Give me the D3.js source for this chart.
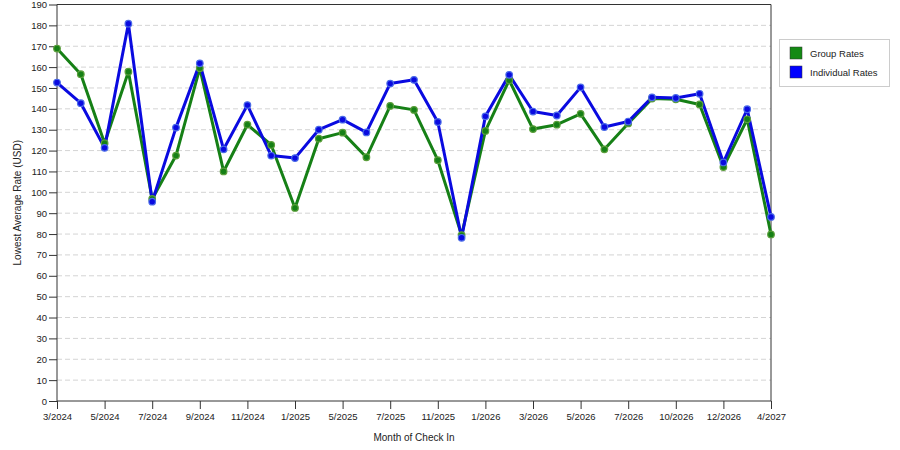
<!DOCTYPE html>
<html><head><meta charset="utf-8">
<script src="https://cdn.jsdelivr.net/npm/d3@7"></script>
<style>
html,body{margin:0;padding:0;background:#fff;}
text{font-family:"Liberation Sans",Arial,sans-serif;fill:#222;}
</style></head>
<body><svg id="c" width="900" height="450"></svg>
<script>
const months = ["3/2024","4/2024","5/2024","6/2024","7/2024","8/2024","9/2024","10/2024","11/2024","12/2024",
  "1/2025","3/2025","5/2025","6/2025","7/2025","9/2025","11/2025","12/2025","1/2026","2/2026",
  "3/2026","4/2026","5/2026","6/2026","7/2026","9/2026","10/2026","11/2026","12/2026","2/2027","4/2027"];
const groupRates = [168.9,156.6,123.5,157.8,96.8,117.6,159.5,110.0,132.4,122.7,
  92.5,125.7,128.6,116.8,141.4,139.5,115.4,79.5,129.4,153.7,
  130.3,132.4,137.6,120.6,133.0,144.9,144.6,142.1,112.1,135.0,79.8];
const individualRates = [152.6,142.7,121.3,180.8,95.5,131.0,161.8,120.6,141.8,117.6,
  116.4,130.0,134.8,128.7,152.1,153.9,133.7,78.2,136.4,156.3,
  138.7,136.8,150.3,131.3,133.9,145.5,145.2,147.2,114.3,139.8,88.2];
const yTicks = d3.range(0, 191, 10);
const seriesNames = ["Group Rates","Individual Rates"];
const seriesColors = ["#168016","#0a0ae0"];
const markerColors = ["#5a9e3a","#4a6ae8"];

const svg = d3.select("#c");
const L = 57, R = 771, T = 4.5, B = 401;
const x = d3.scalePoint().domain(months).range([L, R]).padding(0);
const y = d3.scaleLinear().domain([0, 190]).range([B, T]);

// grid
svg.append("g").selectAll("line").data(yTicks.filter(v => v > 0 && v < 190)).join("line")
  .attr("x1", L).attr("x2", R).attr("y1", d => y(d)).attr("y2", d => y(d))
  .attr("stroke", "#d4d4d4").attr("stroke-dasharray", "5,3").attr("stroke-width", 1);

// frame top/right
svg.append("line").attr("x1", L).attr("x2", R).attr("y1", T).attr("y2", T).attr("stroke", "#333");
svg.append("line").attr("x1", R).attr("x2", R).attr("y1", T).attr("y2", B).attr("stroke", "#333");

// axes
const yAxis = d3.axisLeft(y).tickValues(yTicks).tickSize(8).tickPadding(2).tickFormat(d3.format("d"));
const gy = svg.append("g").attr("transform", `translate(${L},0)`).call(yAxis);
gy.selectAll("text").attr("font-size", "9.5px").style("font-family", "'Liberation Sans',Arial,sans-serif").attr("fill", "#222");
gy.selectAll("line,path").attr("stroke", "#333");
gy.select(".domain").attr("d", `M0,${T}V${B}`);

const xAxis = d3.axisBottom(x).tickValues(months.filter((m, i) => i % 2 === 0)).tickSize(8).tickPadding(4);
const gx = svg.append("g").attr("transform", `translate(0,${B})`).call(xAxis);
gx.selectAll("text").attr("font-size", "9.5px").style("font-family", "'Liberation Sans',Arial,sans-serif").attr("fill", "#222");
gx.selectAll("line,path").attr("stroke", "#333");
gx.select(".domain").attr("d", `M${L},0H${R}`);

// axis titles
svg.append("text").attr("x", (L + R) / 2).attr("y", 441).attr("text-anchor", "middle")
  .attr("font-size", "10px").text("Month of Check In");
svg.append("text").attr("transform", `translate(21,${(T + B) / 2}) rotate(-90)`).attr("text-anchor", "middle")
  .attr("font-size", "10px").text("Lowest Average Rate (USD)");

// series
const data = [groupRates, individualRates];
const line = d3.line().x((d, i) => x(months[i])).y(d => y(d));
data.forEach((s, k) => {
  svg.append("path").datum(s).attr("d", line).attr("fill", "none")
    .attr("stroke", seriesColors[k]).attr("stroke-width", 3).attr("stroke-linejoin", "round");
});
data.forEach((s, k) => {
  svg.append("g").selectAll("circle").data(s).join("circle")
    .attr("cx", (d, i) => x(months[i])).attr("cy", d => y(d)).attr("r", 3.3)
    .attr("fill", seriesColors[k]).attr("stroke", markerColors[k]).attr("stroke-width", 1.2);
});

// legend
const lg = svg.append("g");
lg.append("rect").attr("x", 779.5).attr("y", 39.5).attr("width", 110).attr("height", 47)
  .attr("fill", "#fff").attr("stroke", "#ccc");
seriesNames.forEach((n, k) => {
  lg.append("rect").attr("x", 790).attr("y", 47 + k * 19).attr("width", 12).attr("height", 12)
    .attr("fill", k === 0 ? "#138a13" : "#0000ff").attr("stroke", "#333").attr("stroke-width", 0.5);
  lg.append("text").attr("x", 810).attr("y", 57 + k * 19).attr("font-size", "9.5px").text(n);
});
</script></body></html>
